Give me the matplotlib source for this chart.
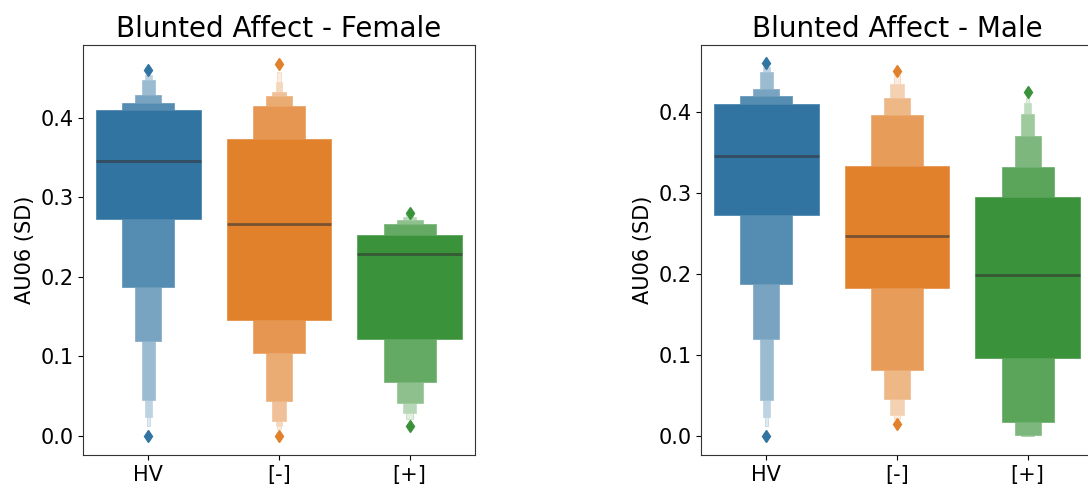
import numpy as np
import matplotlib
matplotlib.use("Agg")
import matplotlib.pyplot as plt
from matplotlib.colors import to_rgb

# ---- data (letter-value box edges, main box first) ----
groups = ["HV", "[-]", "[+]"]
colors = ["#3274a1", "#e1812c", "#3a923a"]

female_hv_low = [0.272, 0.187, 0.119, 0.045, 0.023, 0.012]
female_hv_high = [0.410, 0.419, 0.429, 0.448, 0.454, 0.457]
female_hv_median = 0.346
female_hv_out = [0.0, 0.460]

female_neg_low = [0.1455, 0.1036, 0.0436, 0.0185, 0.0122, 0.008]
female_neg_high = [0.3736, 0.4151, 0.4267, 0.4327, 0.4453, 0.458]
female_neg_median = 0.266
female_neg_out = [0.0, 0.467]

female_pos_low = [0.1213, 0.0679, 0.0415, 0.0282, 0.0206]
female_pos_high = [0.2521, 0.2659, 0.271, 0.275, 0.277]
female_pos_median = 0.2286
female_pos_out = [0.012, 0.280]

male_hv_low = [0.273, 0.187, 0.119, 0.044, 0.023, 0.012]
male_hv_high = [0.410, 0.419, 0.428, 0.449, 0.455, 0.457]
male_hv_median = 0.345
male_hv_out = [0.0, 0.460]

male_neg_low = [0.182, 0.0811, 0.0458, 0.0254, 0.0202]
male_neg_high = [0.3333, 0.3963, 0.4167, 0.4345, 0.4453]
male_neg_median = 0.2465
male_neg_out = [0.0145, 0.450]

male_pos_low = [0.0963, 0.0165, 0.0012, 0.0, 0.0, 0.0]
male_pos_high = [0.2943, 0.3314, 0.3704, 0.3966, 0.4104, 0.4165]
male_pos_median = 0.198
male_pos_out = [0.4237]

panels = [
    ("Blunted Affect - Female",
     [female_hv_low, female_neg_low, female_pos_low],
     [female_hv_high, female_neg_high, female_pos_high],
     [female_hv_median, female_neg_median, female_pos_median],
     [female_hv_out, female_neg_out, female_pos_out],
     (-0.0243, 0.4914)),
    ("Blunted Affect - Male",
     [male_hv_low, male_neg_low, male_pos_low],
     [male_hv_high, male_neg_high, male_pos_high],
     [male_hv_median, male_neg_median, male_pos_median],
     [male_hv_out, male_neg_out, male_pos_out],
     (-0.0238, 0.4823)),
]


def level_color(c, j, n):
    # lighten toward white, last level 85% white
    rgb = np.array(to_rgb(c))
    t = 0.85 * j / max(n - 1, 1)
    return tuple(rgb * (1 - t) + t)


fig = plt.figure(figsize=(10.88, 4.91), dpi=100)
ax_pos = [[0.0763, 0.0733, 0.3603, 0.835], [0.6443, 0.0733, 0.3603, 0.835]]

for pos, (title, lows, highs, medians, outs, ylim) in zip(ax_pos, panels):
    ax = fig.add_axes(pos)
    for i in range(len(groups)):
        n = len(lows[i])
        # outer levels first so the main box sits on top
        for j in reversed(range(n)):
            lo, hi = lows[i][j], highs[i][j]
            fc = level_color(colors[i], j, n)
            ax.bar(i, hi - lo, bottom=lo, width=0.8 * 0.5 ** j, color=fc,
                   edgecolor=level_color(colors[i], min(j + 1, n - 1), n + 1),
                   linewidth=0.6, zorder=2)
        ax.plot([i - 0.4, i + 0.4], [medians[i]] * 2, color="0.2", alpha=0.6,
                lw=2, solid_capstyle="butt", zorder=3)
        ax.plot([i] * len(outs[i]), outs[i], ls="none", marker="d", ms=6,
                color=colors[i], mec=colors[i], zorder=3)
    ax.set_xlim(-0.5, 2.5)
    ax.set_ylim(*ylim)
    ax.set_xticks(range(len(groups)))
    ax.set_xticklabels(groups)
    ax.set_yticks([0.0, 0.1, 0.2, 0.3, 0.4])
    ax.tick_params(labelsize=15)
    ax.set_ylabel("AU06 (SD)", fontsize=15)
    ax.set_title(title, fontsize=20)
    for s in ax.spines.values():
        s.set_color("0.2")

fig.savefig("out.png", dpi=100)
